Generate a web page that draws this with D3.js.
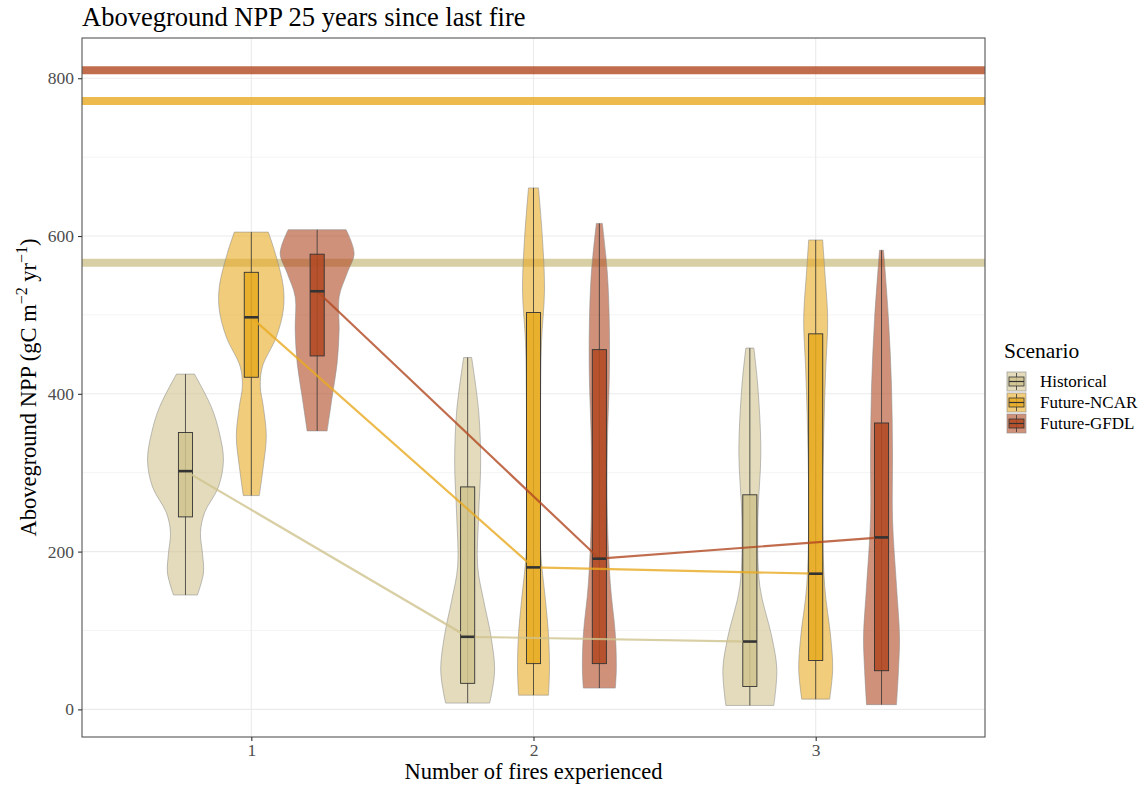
<!DOCTYPE html>
<html>
<head>
<meta charset="utf-8">
<script src="https://cdn.jsdelivr.net/npm/d3@7"></script>
<style>
  body { margin: 0; background: #fff; }
  text { font-family: "Liberation Serif", "Times New Roman", serif; }
</style>
</head>
<body>
<div id="chart"></div>
<script>
// fires experienced (x categories) and scenarios
const fires = [1, 2, 3];
const scenarios = ["Historical", "Future-NCAR", "Future-GFDL"];
const scenarioColors = ["#d0c38e", "#e8aa21", "#b14821"];

// reference (unburned) NPP for each scenario
const refNPP = [566, 771, 810];

// box stats per fire count: [min, q1, median, q3, max]
const histBox = [[145, 244, 302, 351, 425], [8, 33, 92, 282, 446], [5, 29, 86, 272, 458]];
const ncarBox = [[271, 421, 497, 554, 605], [18, 58, 180, 503, 661], [13, 62, 172, 476, 595]];
const gfdlBox = [[353, 448, 530, 577, 608], [27, 58, 191, 456, 616], [6, 49, 218, 363, 582]];

// violin outlines: [NPP value, relative density]
const histViolin = [
  [[425, 9], [383, 26], [350, 34], [316, 38], [282, 33], [249, 19], [224, 15], [198, 17], [173, 18], [145, 12]],
  [[446, 4], [378, 11], [312, 13], [246, 11], [181, 10], [138, 16], [95, 23], [51, 27], [20, 24], [8, 22]],
  [[458, 4], [409, 8], [325, 11], [241, 8], [156, 10], [92, 22], [51, 27], [5, 24]]
];
const ncarViolin = [
  [[605, 17], [578, 24], [536, 32], [506, 32], [472, 25], [434, 11], [409, 9], [384, 12], [346, 15], [308, 12], [271, 8]],
  [[661, 5], [596, 9], [531, 11], [465, 8], [378, 7], [291, 7], [204, 7], [138, 12], [95, 15], [51, 16], [18, 15]],
  [[595, 7], [557, 9], [494, 12], [430, 10], [346, 8], [241, 7], [156, 9], [92, 15], [51, 17], [13, 14]]
];
const gfdlViolin = [
  [[608, 29], [578, 37], [553, 30], [523, 22], [481, 22], [439, 20], [396, 15], [353, 10]],
  [[616, 3], [553, 8], [487, 10], [422, 10], [334, 8], [246, 8], [159, 11], [95, 16], [51, 17], [27, 16]],
  [[582, 2], [494, 7], [409, 10], [325, 11], [241, 11], [156, 15], [92, 18], [51, 17], [6, 15]]
];

const yTicks = [0, 200, 400, 600, 800];
const yMinor = [100, 300, 500, 700];

const boxes = [histBox, ncarBox, gfdlBox];
const violins = [histViolin, ncarViolin, gfdlViolin];

var width = 1148, height = 786;
var margin = {top: 38, right: 163, bottom: 49, left: 82};
var pw = width - margin.left - margin.right;
var ph = height - margin.top - margin.bottom;

var svg = d3.select("#chart").append("svg")
  .attr("width", width).attr("height", height);

var x = d3.scaleLinear().domain([0.4, 3.6]).range([margin.left, margin.left + pw]);
var y = d3.scaleLinear().domain([-35, 851]).range([margin.top + ph, margin.top]);
var dodge = d3.scaleBand().domain(scenarios).range([-0.35, 0.35]).paddingInner(0).paddingOuter(0);
var dens = d3.scaleLinear().domain([0, 100]).range([0, x(1.354) - x(1)]);
var boxHalf = (x(1.05) - x(1)) / 2;

function cx(i, s) { return x(fires[i] + dodge(scenarios[s]) + dodge.bandwidth() / 2); }

// grid
var grid = svg.append("g");
grid.selectAll(".ymin").data(yMinor).enter().append("line")
  .attr("x1", margin.left).attr("x2", margin.left + pw)
  .attr("y1", d => y(d)).attr("y2", d => y(d))
  .attr("stroke", "#f4f4f4").attr("stroke-width", 1);
grid.selectAll(".ymaj").data(yTicks).enter().append("line")
  .attr("x1", margin.left).attr("x2", margin.left + pw)
  .attr("y1", d => y(d)).attr("y2", d => y(d))
  .attr("stroke", "#ebebeb").attr("stroke-width", 1.1);
grid.selectAll(".xmaj").data(fires).enter().append("line")
  .attr("y1", margin.top).attr("y2", margin.top + ph)
  .attr("x1", d => x(d)).attr("x2", d => x(d))
  .attr("stroke", "#ebebeb").attr("stroke-width", 1.1);

// reference lines
svg.selectAll(".ref").data(refNPP).enter().append("line")
  .attr("x1", margin.left).attr("x2", margin.left + pw)
  .attr("y1", d => y(d)).attr("y2", d => y(d))
  .attr("stroke", (d, i) => scenarioColors[i])
  .attr("stroke-opacity", 0.8)
  .attr("stroke-width", 8);

// violins
var area = d3.area().curve(d3.curveCatmullRom.alpha(0.5));
scenarios.forEach(function(s, si) {
  violins[si].forEach(function(v, i) {
    var c = cx(i, si);
    area.y(d => y(d[0])).x0(d => c - dens(d[1])).x1(d => c + dens(d[1]));
    svg.append("path").attr("d", area(v))
      .attr("fill", scenarioColors[si]).attr("fill-opacity", 0.6)
      .attr("stroke", "#8a8a8a").attr("stroke-opacity", 0.6).attr("stroke-width", 0.9);
  });
});

// boxplots
scenarios.forEach(function(s, si) {
  boxes[si].forEach(function(b, i) {
    var c = cx(i, si);
    var g = svg.append("g");
    g.append("line").attr("x1", c).attr("x2", c).attr("y1", y(b[0])).attr("y2", y(b[4]))
      .attr("stroke", "#333").attr("stroke-width", 0.8);
    g.append("rect").attr("x", c - boxHalf).attr("width", boxHalf * 2)
      .attr("y", y(b[3])).attr("height", y(b[1]) - y(b[3]))
      .attr("fill", scenarioColors[si]).attr("fill-opacity", 0.85)
      .attr("stroke", "#333").attr("stroke-width", 0.9);
  });
});

// median trend lines
var line = d3.line();
scenarios.forEach(function(s, si) {
  svg.append("path")
    .attr("d", line(boxes[si].map((b, i) => [cx(i, si), y(b[2])])))
    .attr("fill", "none").attr("stroke", scenarioColors[si])
    .attr("stroke-opacity", 0.8).attr("stroke-width", 2.2);
});

// medians on top
scenarios.forEach(function(s, si) {
  boxes[si].forEach(function(b, i) {
    var c = cx(i, si);
    svg.append("line").attr("x1", c - boxHalf).attr("x2", c + boxHalf)
      .attr("y1", y(b[2])).attr("y2", y(b[2]))
      .attr("stroke", "#333").attr("stroke-width", 2.6);
  });
});

// panel border
svg.append("rect").attr("x", margin.left).attr("y", margin.top)
  .attr("width", pw).attr("height", ph)
  .attr("fill", "none").attr("stroke", "#555").attr("stroke-width", 1.1);

// axes
var yAxis = svg.append("g").attr("transform", "translate(" + margin.left + ",0)")
  .call(d3.axisLeft(y).tickValues(yTicks).tickSize(4).tickPadding(4));
var xAxis = svg.append("g").attr("transform", "translate(0," + (margin.top + ph) + ")")
  .call(d3.axisBottom(x).tickValues(fires).tickFormat(d3.format("d")).tickSize(4).tickPadding(3));
[xAxis, yAxis].forEach(function(a) {
  a.select(".domain").remove();
  a.selectAll(".tick line").attr("stroke", "#333").attr("stroke-width", 1.1);
  a.selectAll(".tick text").attr("fill", "#4d4d4d").style("font-size", "17.5px")
    .style("font-family", "Liberation Serif");
});

// titles
svg.append("text").attr("x", margin.left).attr("y", 26)
  .style("font-size", "26.5px").attr("fill", "#000")
  .text("Aboveground NPP 25 years since last fire");

svg.append("text").attr("x", margin.left + pw / 2).attr("y", 779)
  .attr("text-anchor", "middle").style("font-size", "22.5px")
  .text("Number of fires experienced");

var yt = svg.append("text")
  .attr("transform", "translate(36," + (margin.top + ph / 2) + ") rotate(-90)")
  .attr("text-anchor", "middle").style("font-size", "22.5px");
yt.append("tspan").text("Aboveground NPP (gC m");
yt.append("tspan").attr("dy", -9).style("font-size", "16px").text("\u22122");
yt.append("tspan").attr("dy", 9).text(" yr");
yt.append("tspan").attr("dy", -9).style("font-size", "16px").text("\u22121");
yt.append("tspan").attr("dy", 9).text(")");

// legend
var lg = svg.append("g").attr("transform", "translate(1004,358)");
lg.append("text").attr("x", 0).attr("y", 0).style("font-size", "21.5px").text("Scenario");
scenarios.forEach(function(s, si) {
  var k = lg.append("g").attr("transform", "translate(3," + (14 + si * 21) + ")");
  k.append("rect").attr("width", 19).attr("height", 19)
    .attr("fill", scenarioColors[si]).attr("fill-opacity", 0.6)
    .attr("stroke", "#8a8a8a").attr("stroke-opacity", 0.6);
  k.append("line").attr("x1", 9.5).attr("x2", 9.5).attr("y1", 1).attr("y2", 18)
    .attr("stroke", "#333").attr("stroke-width", 0.8);
  k.append("rect").attr("x", 2).attr("y", 5).attr("width", 15).attr("height", 9)
    .attr("fill", scenarioColors[si]).attr("fill-opacity", 0.85)
    .attr("stroke", "#333").attr("stroke-width", 0.8);
  k.append("line").attr("x1", 2).attr("x2", 17).attr("y1", 9.5).attr("y2", 9.5)
    .attr("stroke", "#333").attr("stroke-width", 1.2);
  k.append("text").attr("x", 33).attr("y", 15).style("font-size", "17px").text(s);
});
</script>
</body>
</html>
